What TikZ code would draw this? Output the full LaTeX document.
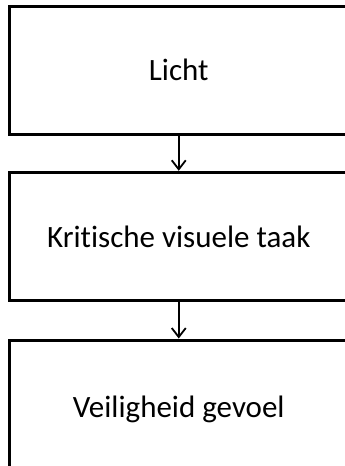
\documentclass[tikz,border=0pt]{standalone}
\usepackage{fontspec}
\setmainfont[Ligatures=NoCommon]{Carlito}
\usetikzlibrary{arrows.meta}
\begin{document}
\begin{tikzpicture}[x=1pt,y=-1pt,
  stagebox/.style={draw=black, line width=3pt, rectangle, inner sep=0pt,
    minimum width=338.5pt, minimum height=128.5pt,
    font=\fontsize{31}{37}\selectfont},
  caption/.style={inner sep=0pt, font=\fontsize{31}{37}\selectfont},
  flow/.style={line width=1.8pt, -{Straight Barb[length=9pt,width=14pt,line width=1.8pt]}}]
  \useasboundingbox (0,0) rectangle (345,466);
  \clip (0,0) rectangle (345,466);
  \node[stagebox] (licht) at (178.75,70.25) {Licht};
  \node[stagebox] (taak) at (178.75,236.5) {Kritische visuele taak};
  \node[stagebox] (gevoel) at (178.75,404.25) {};
  \node[caption] (gevoeltekst) at ([yshift=-5pt]gevoel.center) {Veiligheid gevoel};
  \draw[flow] (licht.south) -- (taak.north);
  \draw[flow] (taak.south) -- (gevoel.north);
\end{tikzpicture}
\end{document}
